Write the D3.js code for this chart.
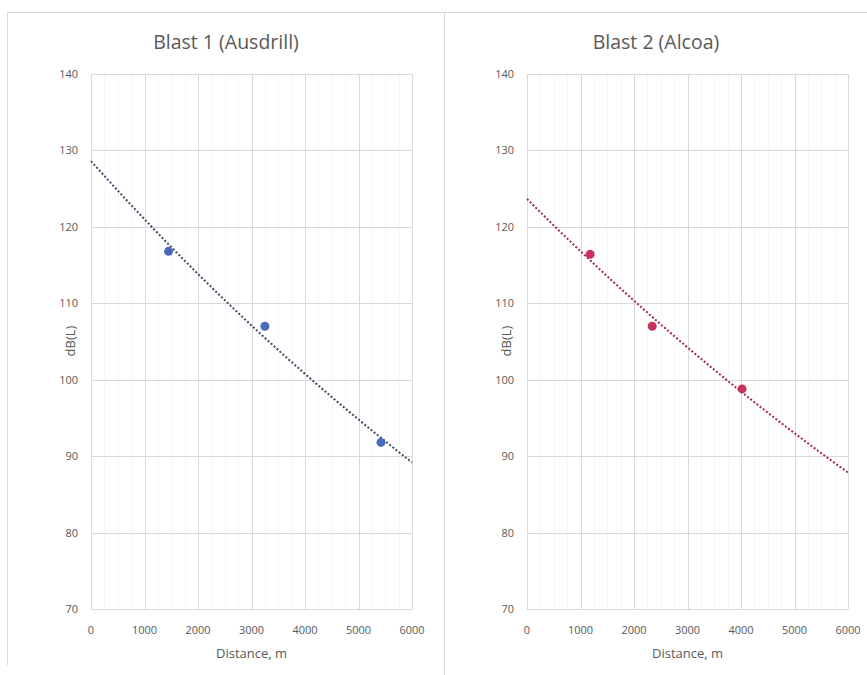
<!DOCTYPE html>
<html>
<head>
<meta charset="utf-8">
<script src="https://cdn.jsdelivr.net/npm/d3@7"></script>
<style>
  body { margin: 0; background: #fff; }
  text { font-family: "Open Sans", sans-serif; fill: #595959; }
</style>
</head>
<body>
<script>
// chart data
var titles = ["Blast 1 (Ausdrill)", "Blast 2 (Alcoa)"];
var blast1Distance = [1450, 3250, 5420];
var blast1Level = [116.8, 107.0, 91.8];
var blast2Distance = [1180, 2340, 4020];
var blast2Level = [116.4, 107.0, 98.8];
var xTicks = [0, 1000, 2000, 3000, 4000, 5000, 6000];
var yTicks = [70, 80, 90, 100, 110, 120, 130, 140];

var w = 867, h = 675;

var svg = d3.select("body").append("svg")
    .attr("width", w)
    .attr("height", h)
    .attr("class", "container");

// outer chart frames
svg.append("line").attr("x1", 7.5).attr("x2", 7.5).attr("y1", 12).attr("y2", 665)
    .style("stroke", "#d9d9d9");
svg.append("line").attr("x1", 7).attr("x2", w).attr("y1", 12.5).attr("y2", 12.5)
    .style("stroke", "#d9d9d9");
svg.append("line").attr("x1", 444.5).attr("x2", 444.5).attr("y1", 12).attr("y2", 675)
    .style("stroke", "#d9d9d9");

// exponential trendline fit (least squares on ln y), like Excel does
function expFit(xs, ys) {
    var ly = ys.map(function(v){ return Math.log(v); });
    var mx = d3.mean(xs), my = d3.mean(ly);
    var sxy = d3.sum(xs, function(x, i){ return (x - mx) * (ly[i] - my); });
    var sxx = d3.sum(xs, function(x){ return (x - mx) * (x - mx); });
    var b = sxy / sxx;
    var a = Math.exp(my - b * mx);
    return function(x){ return a * Math.exp(b * x); };
}

var panels = [
  { title: titles[0], xs: blast1Distance, ys: blast1Level, left: 91, right: 412, cx: 226,
    dot: "#4a6bbd", trend: "#3d4b66" },
  { title: titles[1], xs: blast2Distance, ys: blast2Level, left: 527, right: 848, cx: 656,
    dot: "#c8335e", trend: "#a3284f" }
];

panels.forEach(function(p){
    var x = d3.scaleLinear().domain([0, 6000]).range([p.left, p.right]);
    var y = d3.scaleLinear().domain([70, 140]).range([609, 74]);
    var g = svg.append("g").attr("class", "panel");

    // faint minor vertical lines
    g.selectAll(".minor").data(d3.range(250, 6000, 250).filter(function(d){ return d % 1000 !== 0; }))
      .enter().append("line")
        .attr("class", "minor")
        .attr("x1", function(d){ return Math.round(x(d)) + 0.5; })
        .attr("x2", function(d){ return Math.round(x(d)) + 0.5; })
        .attr("y1", y(140)).attr("y2", y(70))
        .style("stroke", "#f7f7f7");

    // major gridlines
    g.selectAll(".vgrid").data(xTicks).enter().append("line")
        .attr("class", "vgrid")
        .attr("x1", function(d){ return Math.round(x(d)) + 0.5; })
        .attr("x2", function(d){ return Math.round(x(d)) + 0.5; })
        .attr("y1", y(140)).attr("y2", y(70))
        .style("stroke", "#d9d9d9");
    g.selectAll(".hgrid").data(yTicks).enter().append("line")
        .attr("class", "hgrid")
        .attr("x1", x(0)).attr("x2", x(6000))
        .attr("y1", function(d){ return Math.round(y(d)) + 0.5; })
        .attr("y2", function(d){ return Math.round(y(d)) + 0.5; })
        .style("stroke", "#d9d9d9");

    // tick labels
    g.selectAll(".xlab").data(xTicks).enter().append("text")
        .attr("x", function(d){ return x(d); })
        .attr("y", 634)
        .attr("text-anchor", "middle")
        .style("font-size", "11px")
        .text(function(d){ return d; });
    g.selectAll(".ylab").data(yTicks).enter().append("text")
        .attr("x", p.left - 13)
        .attr("y", function(d){ return y(d) + 4; })
        .attr("text-anchor", "end")
        .style("font-size", "11px")
        .text(function(d){ return d; });

    // titles
    g.append("text").attr("x", p.cx).attr("y", 49)
        .attr("text-anchor", "middle")
        .style("font-size", "19.5px")
        .text(p.title);
    g.append("text").attr("x", (p.left + p.right) / 2).attr("y", 658)
        .attr("text-anchor", "middle")
        .style("font-size", "13px")
        .text("Distance, m");
    g.append("text")
        .attr("transform", "translate(" + (p.left - 16) + "," + 341 + ") rotate(-90)")
        .attr("text-anchor", "middle")
        .style("font-size", "13px")
        .text("dB(L)");

    // trendline
    var f = expFit(p.xs, p.ys);
    var line = d3.line()
        .x(function(d){ return x(d); })
        .y(function(d){ return y(f(d)); });
    g.append("path")
        .datum(d3.range(0, 6001, 100))
        .attr("d", line)
        .style("fill", "none")
        .style("stroke", p.trend)
        .style("stroke-width", 2)
        .style("stroke-dasharray", "2,2");

    // points
    g.selectAll(".pt").data(p.xs).enter().append("circle")
        .attr("class", "pt")
        .attr("cx", function(d){ return x(d); })
        .attr("cy", function(d, i){ return y(p.ys[i]); })
        .attr("r", 4.5)
        .style("fill", p.dot);
});
</script>
</body>
</html>
